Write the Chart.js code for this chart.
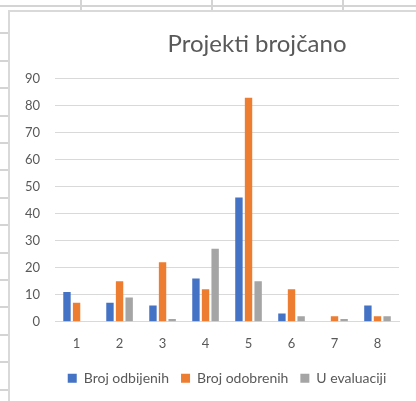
<!DOCTYPE html>
<html>
<head>
<meta charset="utf-8">
<script src="https://cdn.jsdelivr.net/npm/chart.js@4/dist/chart.umd.min.js"></script>
<style>
  html, body { margin: 0; padding: 0; background: #fff; }
  .sheet {
    position: relative; width: 416px; height: 401px; overflow: hidden;
    background-color: #fff;
    background-image:
      linear-gradient(90deg, transparent 80px, #d4d4d4 80px, #d4d4d4 82px, transparent 82px),
      linear-gradient(90deg, transparent 211px, #d4d4d4 211px, #d4d4d4 213px, transparent 213px),
      linear-gradient(90deg, transparent 342px, #d4d4d4 342px, #d4d4d4 344px, transparent 344px),
      repeating-linear-gradient(180deg, #d4d4d4 0, #d4d4d4 2px, transparent 2px, transparent 27.4px);
    background-position: 0 0, 0 0, 0 0, 0 5px;
  }
  .chartbox {
    position: absolute; left: 8px; top: 10px; width: 500px; height: 400px;
    background: #fff; border-left: 2px solid #d9d9d9; border-top: 2px solid #d9d9d9;
    overflow: hidden;
  }
  canvas { display: block; }
</style>
</head>
<body>
<div class="sheet">
  <div class="chartbox">
    <canvas id="projekti" width="494" height="389"></canvas>
  </div>
</div>
<script>
document.addEventListener('DOMContentLoaded', function() {
    const categories = ['1', '2', '3', '4', '5', '6', '7', '8'];
    const odbijeni = [11, 7, 6, 16, 46, 3, 0, 6];
    const odobreni = [7, 15, 22, 12, 83, 12, 2, 2];
    const evaluacija = [0, 9, 1, 27, 15, 2, 1, 2];
    const yTicks = [0, 10, 20, 30, 40, 50, 60, 70, 80, 90];

    const textColor = '#595959';
    const fontFamily = 'Lato, "Open Sans", sans-serif';

    const ctx = document.getElementById('projekti').getContext('2d');
    new Chart(ctx, {
        type: 'bar',
        data: {
            labels: categories,
            datasets: [
                { label: 'Broj odbijenih', data: odbijeni, backgroundColor: '#4472C4' },
                { label: 'Broj odobrenih', data: odobreni, backgroundColor: '#ED7D31' },
                { label: 'U evaluaciji', data: evaluacija, backgroundColor: '#A5A5A5' }
            ]
        },
        options: {
            responsive: false,
            animation: false,
            categoryPercentage: 0.67,
            barPercentage: 0.77,
            layout: { padding: { left: 0, right: 0, top: 0, bottom: 5.7 } },
            plugins: {
                title: {
                    display: true,
                    text: 'Projekti brojčano',
                    color: textColor,
                    font: { family: fontFamily, size: 24, weight: 'normal' },
                    padding: { top: 18, bottom: 20 }
                },
                legend: {
                    position: 'bottom',
                    fullSize: false,
                    labels: {
                        color: textColor,
                        font: { family: fontFamily, size: 14 },
                        boxWidth: 9,
                        boxHeight: 9,
                        padding: 12
                    }
                },
                tooltip: { enabled: false }
            },
            scales: {
                x: {
                    grid: { display: false, drawTicks: false },
                    border: { display: true, color: '#d9d9d9', width: 1 },
                    ticks: { color: textColor, font: { family: fontFamily, size: 13 }, padding: 14 },
                    // labels sit closer to the legend than chart.js leaves by default
                    afterFit: function(scale) { scale.height -= 6; }
                },
                y: {
                    min: 0,
                    max: 90,
                    afterBuildTicks: function(scale) {
                        scale.ticks = yTicks.map(v => ({ value: v }));
                    },
                    grid: { color: '#d9d9d9', drawTicks: false },
                    border: { display: false },
                    ticks: { color: textColor, font: { family: fontFamily, size: 13 }, padding: 15 }
                },
                // empty axis that keeps the space of the cropped right side of the chart
                yRight: {
                    position: 'right',
                    display: true,
                    grid: { display: false, drawTicks: false },
                    border: { display: false },
                    ticks: { display: false },
                    afterFit: function(scale) { scale.width = 105; }
                }
            }
        }
    });
});
</script>
</body>
</html>
